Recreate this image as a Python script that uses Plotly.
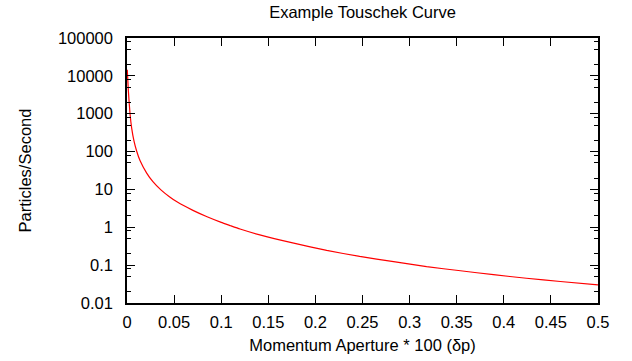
import plotly.graph_objects as go

# Data
aperture = [0.0003, 0.0014, 0.0032, 0.005, 0.0075, 0.0103, 0.0138, 0.0209,
            0.0275, 0.036, 0.045, 0.053, 0.07, 0.085, 0.1, 0.11, 0.12, 0.141,
            0.177, 0.212, 0.247, 0.283, 0.318, 0.354, 0.389, 0.424, 0.46, 0.5]
rate = [14500, 4200, 1000, 410, 185, 102, 58, 27,
        16, 9.7, 6.4, 4.7, 2.8, 1.9, 1.35, 1.1, 0.9, 0.63,
        0.38, 0.245, 0.17, 0.124, 0.091, 0.071, 0.056, 0.045, 0.037, 0.030]

x_ticks = [0, 0.05, 0.1, 0.15, 0.2, 0.25, 0.3, 0.35, 0.4, 0.45, 0.5]
x_labels = ["0", "0.05", "0.1", "0.15", "0.2", "0.25", "0.3", "0.35", "0.4", "0.45", "0.5"]
y_ticks = [0.01, 0.1, 1, 10, 100, 1000, 10000, 100000]
y_labels = ["0.01", "0.1", "1", "10", "100", "1000", "10000", "100000"]
y_minor = [m * d for d in [0.01, 0.1, 1, 10, 100, 1000, 10000] for m in (2, 5, 8)]

FONT = "Liberation Sans, Arial, sans-serif"
FS = 16.5

fig = go.Figure()
fig.add_trace(go.Scatter(x=aperture, y=rate, mode="lines",
                         line=dict(color="#ff0000", width=1.2, shape="spline", smoothing=0.5),
                         showlegend=False))

fig.update_layout(
    width=632, height=361,
    margin=dict(l=127, r=34, t=38, b=58, autoexpand=False),
    paper_bgcolor="white", plot_bgcolor="white",
    font=dict(family=FONT, size=FS, color="black"),
    title=dict(text="Example Touschek Curve", x=0.5737, xanchor="center",
               y=1 - 12 / 361, yanchor="middle", font=dict(family=FONT, size=FS, color="black")),
)
fig.update_xaxes(
    range=[0, 0.5], tickmode="array", tickvals=x_ticks, ticktext=x_labels,
    showgrid=False, zeroline=False, showline=True, linecolor="black", linewidth=1.5,
    mirror="allticks", ticks="inside", ticklen=8, tickwidth=1.2, tickcolor="black",
    ticklabelstandoff=3, automargin=False,
    title=dict(text="Momentum Aperture * 100 (δp)", standoff=10, font=dict(size=FS)),
)
fig.update_yaxes(
    type="log", range=[-2, 5], tickmode="array", tickvals=y_ticks, ticktext=y_labels,
    showgrid=False, zeroline=False, showline=True, linecolor="black", linewidth=1.5,
    mirror="allticks", ticks="inside", ticklen=8, tickwidth=1.2, tickcolor="black",
    ticklabelstandoff=9, automargin=False,
    minor=dict(tickmode="array", tickvals=y_minor, ticks="inside", ticklen=4,
               tickwidth=1, tickcolor="black", showgrid=False),
    title=dict(text="Particles/Second", standoff=22, font=dict(size=FS)),
)

fig.write_html("out.html")
